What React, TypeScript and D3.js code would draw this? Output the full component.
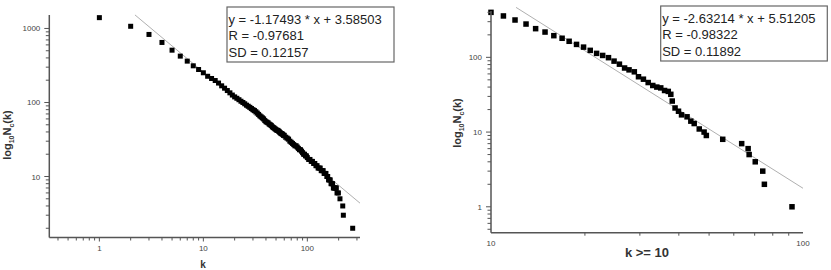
import React from "react";
import * as d3 from "d3";

// ---------- data ----------
const leftK = [1, 2, 3, 4, 5, 6, 7, 8, 9, 10, 11, 12, 13, 14, 15, 16, 17, 18, 19, 20, 21, 22, 23, 24, 25, 26, 27, 28, 29, 30, 31, 32, 33, 34, 35, 36, 37, 38, 39, 40, 41, 42, 43, 44, 45, 46, 47, 48, 49, 50, 51, 52, 53, 54, 55, 56, 57, 58, 59, 60, 62, 64, 66, 68, 70, 72, 74, 76, 78, 80, 82, 84, 86, 88, 90, 92, 94, 96, 98, 100, 103, 106, 109, 112, 115, 118, 121, 124, 127, 130, 133, 136, 139, 142, 145, 148, 151, 154, 157, 160, 163, 166, 169, 172, 175, 178, 181, 184, 187, 190, 193, 199, 206, 219, 222, 273];
const leftN = [1400, 1070, 830, 647, 509, 423, 362, 313, 279, 252, 226, 211, 198, 183, 168, 156, 145, 135, 126, 119, 114, 109, 104, 100, 96, 92, 89, 86, 83, 80, 78, 75, 72, 69, 66, 64, 62, 60, 57, 55, 54, 53, 51, 50, 49, 47, 46, 45, 44, 43, 42, 42, 41, 40, 39, 38, 38, 37, 36, 36, 34, 33, 32, 30, 29, 28, 27, 26, 26, 25, 24, 23, 23, 22, 21, 20, 20, 19, 19, 18, 17, 17, 16, 16, 15, 15, 14, 14, 13, 13, 13, 12, 12, 12, 11, 11, 11, 10, 10, 9, 9, 9, 8, 8, 8, 7, 7, 7, 7, 7, 6, 6, 5, 4, 3, 2];

const rightK = [10, 10.96, 11.94, 12.95, 13.9, 14.9, 15.9, 16.9, 17.8, 18.8, 19.8, 20.8, 21.8, 22.8, 23.8, 24.8, 25.8, 26.8, 27.7, 28.8, 29.7, 30.8, 31.9, 33, 34, 35, 36, 37, 37.7, 38.1, 38.9, 39.9, 40.8, 42.5, 43.7, 44.8, 46.5, 48.2, 49, 55.3, 63.6, 66.7, 67.2, 70.3, 74.3, 75.2, 92.2];
const rightN = [400, 358, 316, 279, 242, 218, 195, 180, 164, 149, 137, 124, 113, 106, 99, 89, 81, 72, 68, 64, 55, 51, 46, 42, 40, 39, 36, 35, 32, 26, 21, 19, 17, 16, 14, 13, 11, 10, 9, 8, 7, 6, 5, 4, 3, 2, 1];

const leftFit = { slope: -1.17493, intercept: 3.58503, kStart: 2.2, kEnd: 321 };
const rightFit = { slope: -2.63214, intercept: 5.51205, kStart: 12.03, kEnd: 100 };

const leftLegend = ["y = -1.17493 * x + 3.58503", "R = -0.97681", "SD = 0.12157"];
const rightLegend = ["y = -2.63214 * x + 5.51205", "R = -0.98322", "SD = 0.11892"];

const leftXTickLabels = ["1", "10", "100"];
const leftYTickLabels = ["10", "100", "1000"];
const rightXTickLabels = ["10", "100"];
const rightYTickLabels = ["1", "10", "100"];

// ---------- helpers ----------
function minorTicks(lo: number, hi: number) {
  const out: number[] = [];
  for (let e = -2; e <= 4; e++) {
    for (let m = 1; m <= 9; m++) {
      const v = m * Math.pow(10, e);
      if (v >= lo * 1.0001 && v <= hi * 0.9999) out.push(v);
    }
  }
  return out;
}
const isMajor = (v: number) => Math.abs(Math.log10(v) - Math.round(Math.log10(v))) < 1e-6;

const AXIS = "#555";
const TICKTXT = "#444";
const FONT = "Liberation Sans, Arial, sans-serif";

type PanelProps = {
  xDomain: [number, number];
  xRange: [number, number];
  yDomain: [number, number];
  yRange: [number, number];
  ks: number[];
  ns: number[];
  fit: { slope: number; intercept: number; kStart: number; kEnd: number };
  legend: string[];
  legendBox: { x: number; y: number; w: number; h: number };
  xLabels: string[];
  yLabels: string[];
  xLabelY: number;
  xTitle: string;
  xTitlePos: [number, number];
  xTitleSize: number;
  yTitlePos: [number, number];
  marker: number;
};

function Panel(p: PanelProps) {
  const x = d3.scaleLog().domain(p.xDomain).range(p.xRange);
  const y = d3.scaleLog().domain(p.yDomain).range(p.yRange);
  const x0 = p.xRange[0];
  const yb = p.yRange[0];
  const fitLine = d3
    .line<number>()
    .x((k) => x(k))
    .y((k) => y(Math.pow(10, p.fit.intercept + p.fit.slope * Math.log10(k))));
  const fitKs = [p.fit.kStart, p.fit.kEnd];
  const xt = minorTicks(p.xDomain[0], p.xDomain[1]);
  const yt = minorTicks(p.yDomain[0], p.yDomain[1]);
  const s = p.marker;
  return (
    <g>
      <path d={fitLine(fitKs) || ""} stroke="#b0b0b0" strokeWidth={1} fill="none" />
      {p.ks.map((k, i) => (
        <rect key={i} x={x(k) - s / 2} y={y(p.ns[i]) - s / 2} width={s} height={s} fill="#000" />
      ))}
      <line x1={x0} x2={x0} y1={p.yRange[1]} y2={yb} stroke={AXIS} strokeWidth={1.5} />
      <line x1={x0} x2={p.xRange[1]} y1={yb} y2={yb} stroke={AXIS} strokeWidth={1.5} />
      {yt.map((v, i) => (
        <line key={"yt" + i} x1={x0 - (isMajor(v) ? 5 : 3.5)} x2={x0} y1={y(v)} y2={y(v)} stroke={AXIS} strokeWidth={1} />
      ))}
      {xt.map((v, i) => (
        <line key={"xt" + i} x1={x(v)} x2={x(v)} y1={yb} y2={yb + (isMajor(v) ? 4 : 3)} stroke={AXIS} strokeWidth={1} />
      ))}
      {p.yLabels.map((l) => (
        <text key={"yl" + l} x={x0 - 9} y={y(+l) + 3} textAnchor="end" fontSize={8} fill={TICKTXT} fontFamily={FONT}>
          {l}
        </text>
      ))}
      {p.xLabels.map((l) => (
        <text key={"xl" + l} x={x(+l)} y={p.xLabelY} textAnchor="middle" fontSize={8} fill={TICKTXT} fontFamily={FONT}>
          {l}
        </text>
      ))}
      <text x={p.xTitlePos[0]} y={p.xTitlePos[1]} textAnchor="middle" fontSize={p.xTitleSize} fontWeight="bold" fill="#333" fontFamily={FONT}>
        {p.xTitle}
      </text>
      <text
        transform={`translate(${p.yTitlePos[0]},${p.yTitlePos[1]}) rotate(-90)`}
        textAnchor="middle"
        fontSize={11}
        fontWeight="bold"
        fill="#333"
        fontFamily={FONT}
      >
        log
        <tspan fontSize={7} dy={3}>10</tspan>
        <tspan dy={-3}>N</tspan>
        <tspan fontSize={7} dy={3}>c</tspan>
        <tspan dy={-3}>(k)</tspan>
      </text>
      <rect x={p.legendBox.x} y={p.legendBox.y} width={p.legendBox.w} height={p.legendBox.h} fill="#fff" stroke="#666" strokeWidth={1.2} />
      {p.legend.map((t, i) => (
        <text key={"lg" + i} x={p.legendBox.x + 1.5} y={p.legendBox.y + 16.5 + i * 16.5} fontSize={13} fill="#222" fontFamily={FONT}>
          {t}
        </text>
      ))}
    </g>
  );
}

export default function App() {
  return (
    <svg width={831} height={270} style={{ position: "absolute", left: 0, top: 0, background: "#fff" }}>
      <rect x={0} y={0} width={831} height={270} fill="#fff" />
      <Panel
        xDomain={[0.33, 321]}
        xRange={[49.3, 360]}
        yDomain={[1.5, 1520]}
        yRange={[237.5, 15]}
        ks={leftK}
        ns={leftN}
        fit={leftFit}
        legend={leftLegend}
        legendBox={{ x: 227, y: 7, w: 167, h: 55 }}
        xLabels={leftXTickLabels}
        yLabels={leftYTickLabels}
        xLabelY={251}
        xTitle="k"
        xTitlePos={[203, 268]}
        xTitleSize={10}
        yTitlePos={[11, 135]}
        marker={5}
      />
      <Panel
        xDomain={[10, 100]}
        xRange={[491, 803]}
        yDomain={[0.45, 417]}
        yRange={[232.7, 11]}
        ks={rightK}
        ns={rightN}
        fit={rightFit}
        legend={rightLegend}
        legendBox={{ x: 660.7, y: 6, w: 166.6, h: 55 }}
        xLabels={rightXTickLabels}
        yLabels={rightYTickLabels}
        xLabelY={246}
        xTitle="k >= 10"
        xTitlePos={[647, 257]}
        xTitleSize={13}
        yTitlePos={[461, 123]}
        marker={5.5}
      />
    </svg>
  );
}
